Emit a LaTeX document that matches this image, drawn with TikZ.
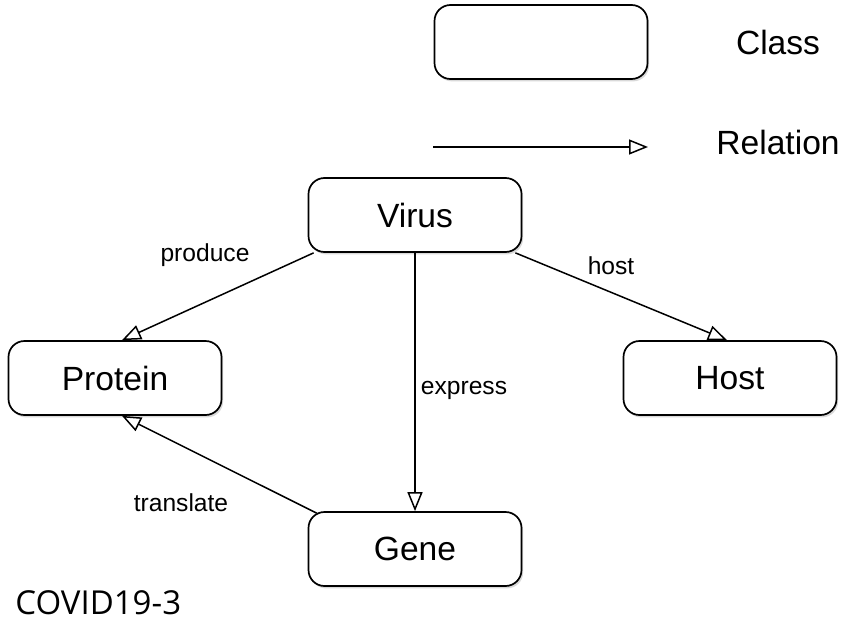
\documentclass[tikz,border=0pt]{standalone}
\usepackage{fontspec}
\setmainfont{Liberation Sans}
\newfontfamily\tagfont{Open Sans}
\usetikzlibrary{arrows.meta,shadows}
\tikzset{
    cls/.style = { draw,line width=0.85pt,rounded corners=8pt,fill=white,
        minimum width=106.5pt,minimum height=37pt,inner sep=0,
        drop shadow={shadow xshift=0.8pt,shadow yshift=-1.2pt,opacity=0.25,fill=black!60},
        font=\fontsize{16.8}{20}\selectfont, },
    rel/.style = { -{Triangle[open,length=9.5pt,width=7.5pt]},line width=0.75pt, },
    write/.style = { text=black,font=\fontsize{16.8}{20}\selectfont,inner sep=0, },
    lbl/.style = { text=black,font=\fontsize{12.3}{14}\selectfont,inner sep=0, },
}
\begin{document}
\begin{tikzpicture}[x=0.5pt,y=-0.5pt]

    \useasboundingbox (0,0) rectangle (854,631);

    % legend
    \node [cls] (legendcls) at (541,42) {};
    \node [write] (classtxt) at (778,42) {Class};
    \coordinate (rela) at (433,147);
    \coordinate (relb) at (648,147);
    \draw [rel] (rela) -- (relb);
    \node [write] (reltxt) at (778,142) {Relation};

    % classes
    \node [cls] (virus) at (415,215) {Virus};
    \node [cls] (protein) at (115,378) {Protein};
    \node [cls] (host) at (730,378) {Host};
    \node [cls] (gene) at (415,549) {Gene};

    % relations
    \draw [rel] ([xshift=3pt]virus.south west) -- ([xshift=3.5pt]protein.north);
    \draw [rel] ([xshift=-3.5pt]virus.south east) -- ([xshift=-1.5pt]host.north);
    \draw [rel] (virus.south) -- (gene.north);
    \draw [rel] ([xshift=4.5pt,yshift=-1pt]gene.north west) -- ([xshift=3.5pt]protein.south);

    \node [lbl] (produce) at (205,255) {produce};
    \node [lbl] (hosttxt) at (611,266) {host};
    \node [lbl] (express) at (464,390) {express};
    \node [lbl] (translate) at (181,503) {translate};

    \node [anchor=west,inner sep=0,font=\tagfont\fontsize{16.5}{19}\selectfont] (tag) at (15,603) {COVID19-3};

\end{tikzpicture}
\end{document}
